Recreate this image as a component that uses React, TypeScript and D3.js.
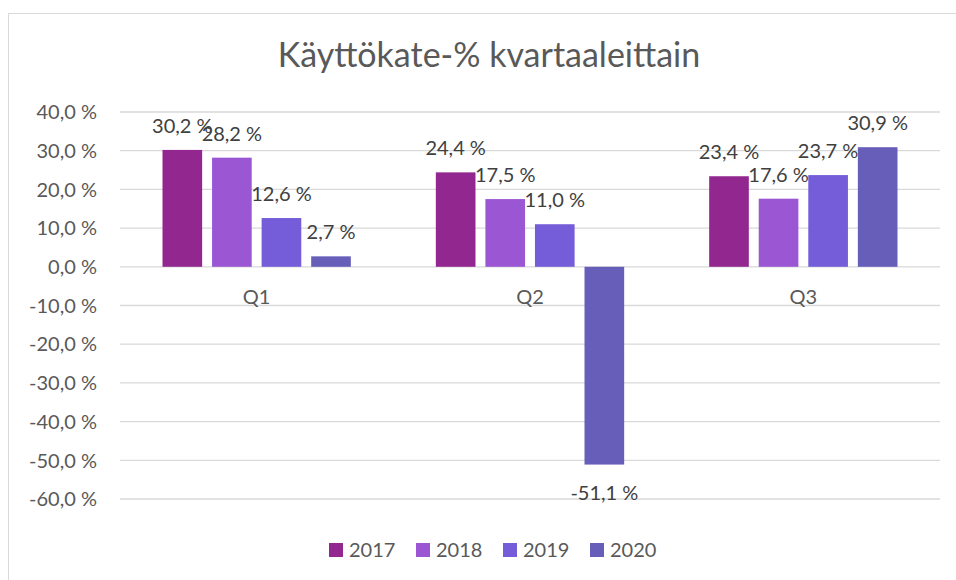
import * as d3 from "d3";

const quarters = ["Q1", "Q2", "Q3"];
const years = ["2017", "2018", "2019", "2020"];
const values2017 = [30.2, 24.4, 23.4];
const values2018 = [28.2, 17.5, 17.6];
const values2019 = [12.6, 11.0, 23.7];
const values2020 = [2.7, -51.1, 30.9];
const yTicks = [40, 30, 20, 10, 0, -10, -20, -30, -40, -50, -60];
const colors = ["#92278F", "#9B57D3", "#755DD9", "#665EB8"];

const series = [values2017, values2018, values2019, values2020];
const font = "Lato, 'Noto Sans', sans-serif";

const fmt = (v: number) => v.toFixed(1).replace(".", ",") + " %";

export default function App() {
	const width = 956,
		height = 580;
	const left = 120,
		right = 940;

	const y = d3.scaleLinear().domain([-60, 40]).range([499, 112]);
	const x0 = d3.scaleBand().domain(quarters).range([left, right]);
	const x1 = d3
		.scaleBand()
		.domain(years)
		.range([42.5, x0.bandwidth() - 42.5])
		.paddingInner(0.2);
	const color = d3.scaleOrdinal<string>().domain(years).range(colors);

	return (
		<svg
			width={width}
			height={height}
			style={{ position: "absolute", left: 0, top: 0, background: "#fff" }}
		>
			<rect x={8.5} y={13.5} width={1000} height={1000} fill="#fff" stroke="#d9d9d9" />
			<text
				x={489}
				y={67}
				textAnchor="middle"
				fontFamily={font}
				fontWeight={400}
				fontSize={34}
				fill="#595959"
			>
				Käyttökate-% kvartaaleittain
			</text>

			{/* grid + y ticks */}
			{yTicks.map((t) => (
				<g key={t}>
					<line x1={left} x2={right} y1={y(t)} y2={y(t)} stroke="#d9d9d9" strokeWidth={1.3} />
					<text
						x={97}
						y={y(t)}
						dy="0.36em"
						textAnchor="end"
						fontFamily={font}
						fontSize={20}
						fill="#595959"
					>
						{fmt(t)}
					</text>
				</g>
			))}

			{/* bars */}
			{series.map((vals, si) =>
				vals.map((v, qi) => {
					const bx = x0(quarters[qi])! + x1(years[si])!;
					const top = y(Math.max(0, v));
					const h = Math.abs(y(v) - y(0));
					return (
						<rect
							key={`${si}-${qi}`}
							x={bx}
							y={top}
							width={x1.bandwidth()}
							height={h}
							fill={color(years[si])}
						/>
					);
				})
			)}

			{/* category labels */}
			{quarters.map((q) => (
				<text
					key={q}
					x={x0(q)! + x0.bandwidth() / 2}
					y={304}
					textAnchor="middle"
					fontFamily={font}
					fontSize={20}
					fill="#595959"
				>
					{q}
				</text>
			))}

			{/* data labels */}
			{series.map((vals, si) =>
				vals.map((v, qi) => {
					const cx = x0(quarters[qi])! + x1(years[si])! + x1.bandwidth() / 2;
					const ly = v >= 0 ? y(v) - 17 : y(v) + 35;
					return (
						<text
							key={`l${si}-${qi}`}
							x={cx}
							y={ly}
							textAnchor="middle"
							fontFamily={font}
							fontSize={20}
							fill="#404040"
						>
							{fmt(v)}
						</text>
					);
				})
			)}

			{/* legend */}
			{years.map((yr, i) => (
				<g key={yr} transform={`translate(${329 + i * 87},543)`}>
					<rect width={14} height={14} fill={color(yr)} />
					<text x={20} y={7} dy="0.36em" fontFamily={font} fontSize={20} fill="#595959">
						{yr}
					</text>
				</g>
			))}
		</svg>
	);
}
